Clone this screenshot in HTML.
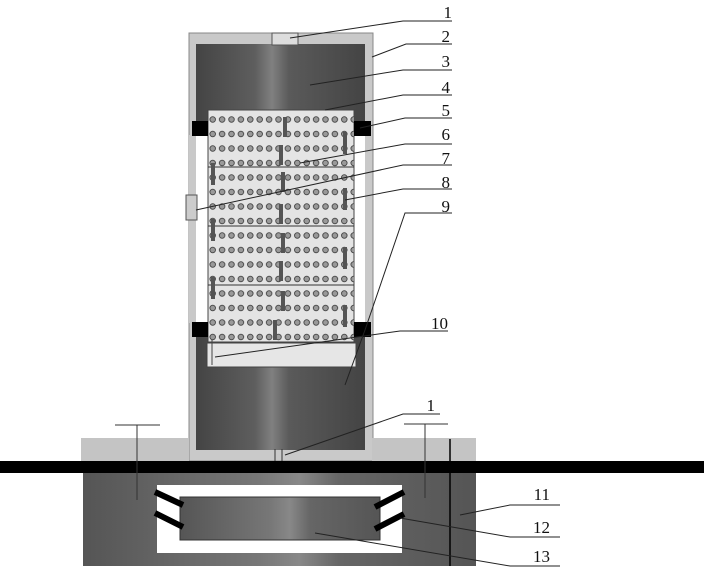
<!DOCTYPE html>
<html><head><style>body{margin:0;background:#fff}svg{display:block}text{font-family:"Liberation Serif",serif;font-size:17px;fill:#111}</style></head><body>
<svg width="704" height="571" xmlns="http://www.w3.org/2000/svg">
<defs>
<linearGradient id="dk" x1="0" x2="1"><stop offset="0" stop-color="#444"/><stop offset="0.35" stop-color="#5e5e5e"/><stop offset="0.45" stop-color="#808080"/><stop offset="0.55" stop-color="#5a5a5a"/><stop offset="1" stop-color="#444"/></linearGradient>
<linearGradient id="dk2" x1="0" x2="1"><stop offset="0" stop-color="#555"/><stop offset="0.45" stop-color="#777"/><stop offset="0.55" stop-color="#888"/><stop offset="0.65" stop-color="#666"/><stop offset="1" stop-color="#555"/></linearGradient>
<pattern id="dots" x="208" y="112.5" width="9.4" height="14.5" patternUnits="userSpaceOnUse"><circle cx="4.7" cy="7" r="2.8" fill="#9a9a9a" stroke="#444" stroke-width="0.9"/></pattern>
</defs>
<rect x="189" y="33" width="184" height="428" fill="#c9c9c9" stroke="#888"/>
<rect x="196" y="44" width="169" height="406" fill="url(#dk)"/>
<rect x="196" y="135" width="12" height="188" fill="#fff"/>
<rect x="353" y="135" width="12" height="188" fill="#fff"/>
<rect x="189" y="135" width="7" height="188" fill="#c9c9c9"/>
<rect x="272" y="33" width="26" height="12" fill="#ddd" stroke="#555"/>
<rect x="208" y="110" width="146" height="232" fill="#e4e4e4" stroke="#444"/>
<rect x="208" y="110" width="146" height="232" fill="url(#dots)"/>
<line x1="208" y1="167" x2="354" y2="167" stroke="#333"/>
<line x1="208" y1="226" x2="354" y2="226" stroke="#333"/>
<line x1="208" y1="285" x2="354" y2="285" stroke="#333"/>
<g fill="#555"><rect x="283" y="117" width="4" height="20"/><rect x="343" y="132" width="4" height="22"/><rect x="279" y="145" width="4" height="20"/><rect x="211" y="163" width="4" height="22"/><rect x="281" y="172" width="4" height="20"/><rect x="343" y="188" width="4" height="22"/><rect x="279" y="204" width="4" height="20"/><rect x="211" y="219" width="4" height="22"/><rect x="281" y="233" width="4" height="20"/><rect x="343" y="247" width="4" height="22"/><rect x="279" y="261" width="4" height="20"/><rect x="211" y="277" width="4" height="22"/><rect x="281" y="291" width="4" height="20"/><rect x="343" y="305" width="4" height="22"/><rect x="273" y="320" width="4" height="20"/></g>
<rect x="207" y="343" width="149" height="24" fill="#e6e6e6" stroke="#444"/>
<line x1="212" y1="340" x2="212" y2="365" stroke="#444"/>
<rect x="192" y="121" width="16" height="15" fill="#000"/><rect x="354" y="121" width="17" height="15" fill="#000"/>
<rect x="192" y="322" width="16" height="15" fill="#000"/><rect x="354" y="322" width="17" height="15" fill="#000"/>
<rect x="186" y="195" width="11" height="25" fill="#ccc" stroke="#555"/>
<rect x="81" y="438" width="108" height="24" fill="#c4c4c4"/>
<rect x="372" y="438" width="104" height="24" fill="#c4c4c4"/>
<rect x="83" y="473" width="393" height="93" fill="url(#dk2)"/>
<rect x="157" y="485" width="245" height="68" fill="#fff"/>
<rect x="180" y="497" width="200" height="43" fill="url(#dk2)" stroke="#333"/>
<g stroke="#000" stroke-width="6"><line x1="155" y1="492" x2="183" y2="505"/><line x1="155" y1="513" x2="183" y2="527"/><line x1="404" y1="492" x2="375" y2="507"/><line x1="404" y1="514" x2="375" y2="529"/></g>
<rect x="0" y="461" width="704" height="12" fill="#000"/>
<line x1="450" y1="439" x2="450" y2="566" stroke="#000" stroke-width="1.5"/>
<g stroke="#333" stroke-width="1"><line x1="115" y1="425" x2="160" y2="425"/><line x1="137" y1="425" x2="137" y2="500"/><line x1="404" y1="424" x2="448" y2="424"/><line x1="425" y1="424" x2="425" y2="498"/>
<line x1="275" y1="449" x2="275" y2="461"/><line x1="282" y1="449" x2="282" y2="461"/></g>
<g stroke="#222" stroke-width="1" fill="none">
<polyline points="452,21 403,21 290,38"/>
<polyline points="452,44 406,44 372,57"/>
<polyline points="452,70 403,70 310,85"/>
<polyline points="452,95 403,95 325,110"/>
<polyline points="452,118 405,118 360,128"/>
<polyline points="452,144 405,144 300,163"/>
<polyline points="452,165 403,165 196,210"/>
<polyline points="452,189 403,189 345,200"/>
<polyline points="452,213 405,213 365,330 345,385"/>
<polyline points="448,331 400,331 215,357"/>
<polyline points="440,414 403,414 285,455"/>
<polyline points="560,505 510,505 460,515"/>
<polyline points="560,537 510,537 400,518"/>
<polyline points="560,566 510,566 315,533"/>
</g>
<g text-anchor="end">
<text x="452" y="18">1</text><text x="450" y="42">2</text><text x="450" y="67">3</text><text x="450" y="93">4</text><text x="450" y="116">5</text><text x="450" y="140">6</text><text x="450" y="164">7</text><text x="450" y="188">8</text><text x="450" y="212">9</text><text x="448" y="329">10</text><text x="435" y="411">1</text><text x="550" y="500">11</text><text x="550" y="533">12</text><text x="550" y="562">13</text>
</g>
</svg>
</body></html>
